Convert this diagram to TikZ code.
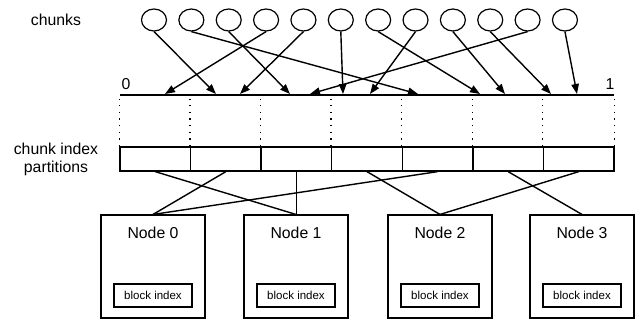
\documentclass[tikz,border=0pt]{standalone}
\usepackage{fontspec}
\setmainfont{Liberation Sans}
\usetikzlibrary{shapes.geometric,arrows.meta}
\begin{document}
\begin{tikzpicture}[x=1pt,y=-1pt,
  chunk/.style={draw,ellipse,minimum width=25pt,minimum height=22pt,inner sep=0pt,line width=1.2pt},
  ptr/.style={line width=1.4pt,-{Triangle[length=10pt,width=7.5pt]}},
  part/.style={draw,minimum width=70.57pt,minimum height=24pt,inner sep=0pt,line width=1.3pt},
  host/.style={draw,minimum width=104pt,minimum height=103pt,inner sep=0pt,line width=1.1pt},
  idx/.style={draw,minimum width=78pt,minimum height=23pt,inner sep=0pt,line width=1.1pt,font=\fontsize{11.5}{13}\selectfont},
  lbl/.style={font=\fontsize{15.8}{18}\selectfont,inner sep=0pt},
  link/.style={line width=1.4pt},
  dots/.style={line width=1.3pt,dash pattern=on 1.3pt off 5.4pt}]
\useasboundingbox (0,0) rectangle (637,320);

% labels on the left
\node[lbl] (lchunks) at (56,20) {chunks};
\node[lbl,align=center] (lparts) at (56,159) {chunk index\\partitions};

% chunks
\foreach \i [evaluate=\i as \cx using 154+37.36*(\i-1)] in {1,...,12}
  \node[chunk] (c\i) at (\cx,20) {};

% key space axis
\coordinate (ax0) at (120,95);
\coordinate (ax1) at (614,95);
\draw[line width=2.4pt] (ax0) -- (ax1);
\node[lbl] (zero) at (126,84) {0};
\node[lbl] (one) at (610,84) {1};

% where each chunk lands on the axis
\foreach \i/\tx in {1/216,2/418,3/290,4/165,5/240,6/343,7/480,8/370,9/505,10/551,11/310,12/577}{
  \coordinate (t\i) at (\tx,94);
  \draw[ptr] (c\i.south) -- (t\i);
}

% partitions of the index
\foreach \i [evaluate=\i as \px using 120+70.57*(\i-0.5)] in {1,...,7}
  \node[part] (p\i) at (\px,159) {};

\foreach \i in {1,...,7}
  \draw[dots] (p\i.north west) -- ++(0,-47);
\draw[dots] (p7.north east) -- ++(0,-47);

% storage nodes
\foreach \i/\nx in {0/153,1/296,2/440,3/582}{
  \node[host] (n\i) at (\nx,266.5) {};
  \node[lbl] (h\i) at (\nx,233) {Node \i};
  \node[idx] (b\i) at (\nx,295.5) {block index};
}

% partition assignment
\draw[link] (p1.south) -- (n1.north);
\draw[link] (p2.south) -- (n0.north);
\draw[link] (p3.south) -- (p3.south |- n1.north);
\draw[link] (p4.south) -- (n2.north);
\draw[link] (p5.south) -- (n0.north);
\draw[link] (p6.south) -- (n3.north);
\draw[link] (p7.south) -- (n2.north);
\end{tikzpicture}
\end{document}
